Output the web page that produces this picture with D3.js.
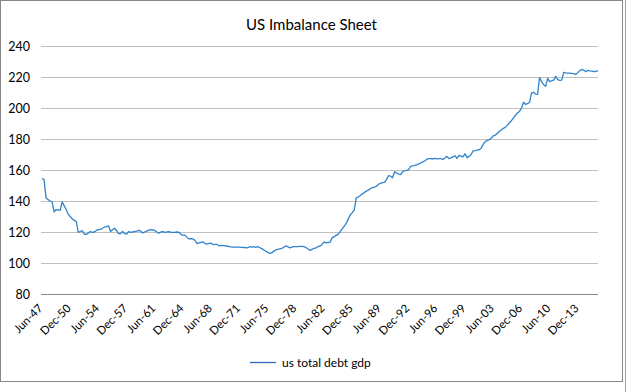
<!DOCTYPE html>
<html>
<head>
<meta charset="utf-8">
<script src="https://cdn.jsdelivr.net/npm/d3@7/dist/d3.min.js"></script>
<style>
  html, body { margin: 0; padding: 0; background: #fff; }
  svg { display: block; }
  text { font-family: Lato, "Open Sans", sans-serif; fill: #000; }
</style>
</head>
<body>
<svg id="chart" width="627" height="392"></svg>
<script>
// ---- data ----
const title = "US Imbalance Sheet";
const seriesName = "us total debt gdp";
const values = [
  154.4,154,142,141,140,139.5,133,134.5,134.3,134,
  139.5,137,134.5,131.5,130,128.5,127.5,126.8,120,120.3,
  121,118.5,118.5,119.3,120.3,119.8,120,121,121.5,121.7,
  122.4,123.2,123.5,124,120.3,121.5,122.4,121,119,119,
  120.3,119,118.6,120.3,119.8,120,120.3,120.6,121,120.5,
  119.4,120,120.6,121.2,121.5,121.3,121,120,119.2,120,
  120.2,119.8,120,120.3,119.8,119.8,119.8,120,119.8,118.5,
  118,118,116.5,115.5,115.8,115.5,114.5,112.5,113,113.3,
  113.6,112.5,112.2,112.6,112.8,111.8,112,112,111,111.3,
  111.2,111,110.8,110.6,110.4,110.3,110.3,110.2,110.2,110.1,
  110,109.9,109.8,110.5,110.3,110.6,110,110.6,110,109.3,
  108.6,107.7,107,106.2,106.5,107.5,108.4,108.8,109.1,109.4,
  110.2,111,110.5,109.8,110.2,110.6,110.6,110.6,110.7,110.7,
  110.6,110,109,108.2,108.8,109.5,109.8,110.5,111,112,
  113.6,113,113.2,113.4,116.2,117,117.8,118.5,120.2,122,
  123.7,125.5,128.3,131,132.5,134.2,142,142.6,143.5,144.6,
  145.4,146.4,147,148,148.7,149,149.4,150.8,151.4,151.8,
  152,153.8,156.3,156,155,158.9,158,157.4,157,159,
  159.6,159.8,160.2,162.4,162.6,163,163.3,164,164.5,165.2,
  165.8,167,167.3,167.4,167.1,167.5,167.2,167.3,167.4,166.7,
  167.8,168.8,167.3,167.8,168.5,169.2,167.5,169.5,169,168.5,
  170.5,168,168.8,170,172.3,172.5,172.8,173.1,174,176.5,
  178.3,179,179.6,180.5,182,182.5,183.5,185,185.8,186.9,
  187.5,188.8,190.5,191.8,193.5,195.2,196.8,197.8,199.8,203.7,
  202.4,202.8,203.7,209.7,210.1,209,208.8,219.6,217,215,
  214,219.1,217,217.5,218,220.4,218.3,217.8,218,223,
  222.6,222.5,222.5,222.3,222.2,221.7,222.8,224.3,224.7,224.4,
  223.4,224.3,224,223.8,223.4,223.7,223.9
];
const tickLabels = ["Jun-47","Dec-50","Jun-54","Dec-57","Jun-61","Dec-64","Jun-68","Dec-71",
  "Jun-75","Dec-78","Jun-82","Dec-85","Jun-89","Dec-92","Jun-96","Dec-99",
  "Jun-03","Dec-06","Jun-10","Dec-13"];
const tickEvery = 14; // quarters between labels
const yTicks = [80,100,120,140,160,180,200,220,240];

// ---- layout ----
const W = 627, H = 392;
const plot = { left: 42, right: 598, top: 46, bottom: 294 };
const svg = d3.select("#chart");

// chart area border
svg.append("rect").attr("x",0.5).attr("y",0.5).attr("width",622).attr("height",381)
  .attr("fill","#fff").attr("stroke","#868686").attr("stroke-width",1);
svg.append("line").attr("x1",625.5).attr("x2",625.5).attr("y1",0).attr("y2",H)
  .attr("stroke","#a0a0a0");

const x = d3.scaleLinear().domain([0, values.length - 1]).range([plot.left, plot.right]);
const y = d3.scaleLinear().domain([80, 240]).range([plot.bottom, plot.top]);

// gridlines
svg.append("g").selectAll("line").data(yTicks.filter(d => d !== 80)).join("line")
  .attr("x1", plot.left - 1).attr("x2", plot.right)
  .attr("y1", d => Math.round(y(d)) + 0.5).attr("y2", d => Math.round(y(d)) + 0.5)
  .attr("stroke", "#bfbfbf").attr("stroke-width", 1);

// y axis labels
const yAxis = d3.axisLeft(y).tickValues(yTicks).tickSize(0).tickPadding(0);
const gy = svg.append("g").attr("transform", `translate(${plot.left - 12},0)`).call(yAxis);
gy.select(".domain").remove();
gy.selectAll("text").attr("font-family","Lato, sans-serif").attr("font-size","12.5px").attr("fill","#000");

// x axis line
svg.append("line").attr("x1", plot.left - 1).attr("x2", plot.right)
  .attr("y1", Math.round(y(80)) + 0.5).attr("y2", Math.round(y(80)) + 0.5)
  .attr("stroke", "#868686");

// x labels
const tickIdx = tickLabels.map((d, i) => i * tickEvery);
const xAxis = d3.axisBottom(x).tickValues(tickIdx).tickFormat((d, i) => tickLabels[i]).tickSize(0).tickPadding(0);
const gx = svg.append("g").attr("transform", `translate(0,${plot.bottom})`).call(xAxis);
gx.select(".domain").remove();
gx.selectAll("text")
  .attr("font-family","Lato, sans-serif").attr("font-size","11.5px").attr("fill","#000")
  .attr("text-anchor","end")
  .attr("dy", null).attr("y", 0)
  .attr("transform", "translate(1,15) rotate(-45)");

// line
const line = d3.line().x((d, i) => x(i)).y(d => y(d));
svg.append("path").datum(values).attr("d", line)
  .attr("fill","none").attr("stroke","#2f83cc").attr("stroke-width",1.3)
  .attr("stroke-linejoin","round");

// title
svg.append("text").attr("x", 311.5).attr("y", 30).attr("text-anchor","middle")
  .attr("font-size","15px").text(title);

// legend
svg.append("line").attr("x1",250).attr("x2",276).attr("y1",362.5).attr("y2",362.5)
  .attr("stroke","#2a6fb5").attr("stroke-width",1.3);
svg.append("text").attr("x",282).attr("y",367).attr("font-size","12px").text(seriesName);
</script>
</body>
</html>
